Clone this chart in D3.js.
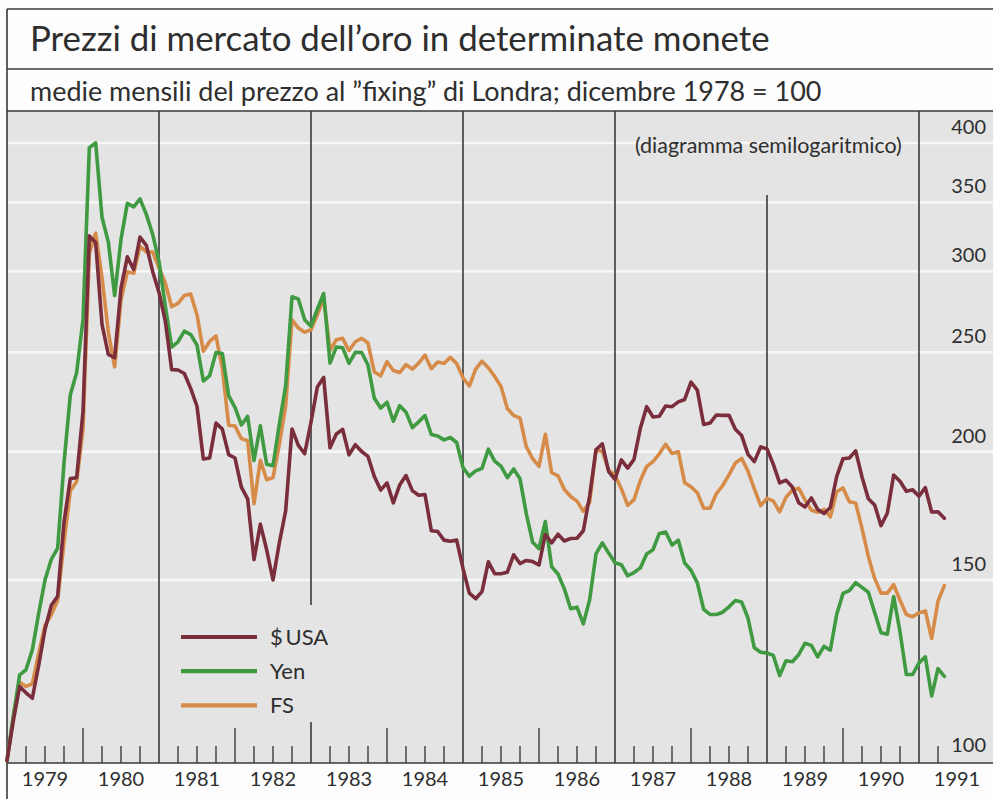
<!DOCTYPE html>
<html><head><meta charset="utf-8">
<script src="https://cdn.jsdelivr.net/npm/d3@7"></script>
<style>
body{margin:0;background:#fff}
text{font-family:Lato,'Open Sans','Noto Sans',sans-serif;fill:#2e2e2e}
</style>
</head><body>
<svg id="chart" width="993" height="799"></svg>
<script>
// Monthly averages, index Dec 1978 = 100; first value is Dec 1978, last is Apr 1991
const firstMonth = {year: 1978, month: 12};
const usd = [
100,
109.3,118.1,116.4,115.0,123.8,134.2,141.7,144.6,170.7,188.3,188.7,218.8,
324.7,319.9,266.2,248.8,247.0,288.8,309.8,301.2,323.8,317.9,299.8,286.0,
268.0,240.5,240.3,238.4,230.6,221.5,196.8,197.2,213.3,210.4,198.7,197.2,
184.7,179.9,157.0,170.0,160.5,150.0,163.0,175.1,210.5,202.9,199.1,213.7,
231.3,236.3,201.8,208.1,210.3,198.6,203.2,200.1,197.9,189.2,183.5,186.5,
178.3,185.6,189.6,183.3,181.4,181.7,167.5,167.2,164.0,163.6,164.0,153.9,
145.6,143.8,146.1,156.2,152.1,152.1,152.6,158.7,155.6,156.7,156.3,155.1,
166.1,163.0,166.2,163.7,164.6,164.7,167.5,181.2,200.9,203.6,191.3,188.0,
196.4,192.8,196.6,210.8,221.3,216.2,216.6,221.6,221.3,223.7,224.9,233.8,
229.7,212.6,213.3,217.2,217.0,217.1,210.4,207.4,198.8,195.6,202.2,201.3,
194.4,186.5,187.6,184.8,178.4,176.7,180.3,175.7,174.1,176.5,189.1,196.9,
197.2,200.4,189.0,180.0,177.5,169.4,174.3,189.8,187.2,183.0,183.6,181.0,
184.5,174.7,174.8,172.3
];
const yen = [
100,
110.5,121.2,122.6,128.2,139.1,150.0,157.1,161.1,194.9,227.3,238.9,269.2,
395.8,400.1,338.6,320.2,284.0,322.2,349.3,346.6,352.8,340.8,325.9,306.5,
277.2,253.0,256.0,262.2,260.2,254.1,234.4,237.3,249.9,249.3,226.9,220.9,
212.4,216.5,196.1,212.0,194.5,193.8,212.7,232.0,283.2,281.8,269.0,265.1,
275.4,285.3,244.0,253.0,252.6,243.9,250.0,249.9,243.0,225.5,220.6,223.5,
214.2,221.8,218.6,211.1,213.9,216.9,207.9,207.2,205.4,206.5,204.2,193.0,
189.3,191.6,192.7,201.2,195.8,193.6,188.7,192.4,188.2,174.0,163.2,160.9,
171.0,154.5,152.0,147.0,140.6,141.1,135.9,143.5,159.0,163.0,159.3,155.9,
155.2,151.4,152.5,154.1,159.0,160.5,166.5,167.0,162.2,164.0,155.8,153.3,
149.0,140.4,138.8,138.8,139.5,141.2,143.2,142.7,137.7,128.8,127.5,127.3,
126.6,121.0,125.1,124.8,126.8,130.1,129.5,126.2,129.2,128.1,138.8,145.5,
146.4,149.1,147.5,145.9,139.4,133.2,132.8,144.5,133.5,121.3,121.3,124.5,
126.2,115.6,122.9,120.8
];
const fs = [
100,
110.3,119.2,118.1,118.8,127.2,135.4,138.7,143.3,163.1,183.2,187.1,210.3,
312.1,326.6,295.7,261.5,242.0,281.1,299.6,298.5,317.1,313.2,313.2,302.3,
292.0,277.0,279.0,284.0,285.0,272.0,250.6,256.2,259.4,241.2,212.3,211.9,
206.0,205.0,178.0,196.2,187.8,188.7,203.4,221.7,269.0,264.0,261.6,263.0,
272.0,282.2,251.0,257.2,258.0,251.0,256.0,258.0,255.3,239.2,237.2,244.8,
240.0,238.9,243.2,240.8,244.0,248.4,241.0,244.6,243.8,247.2,243.8,236.1,
231.8,240.8,245.1,241.5,236.9,231.5,220.4,217.0,215.7,202.2,196.9,193.5,
208.0,190.8,189.5,183.8,180.9,179.0,175.0,178.5,200.9,200.1,191.9,189.7,
184.1,177.3,179.6,187.5,193.5,195.6,199.1,203.4,199.2,200.0,186.6,184.9,
182.4,176.2,176.2,182.0,185.4,189.9,195.0,197.0,191.5,184.0,177.2,180.1,
179.0,174.8,180.6,183.5,184.3,179.5,175.5,174.6,175.7,172.8,182.8,184.4,
178.8,178.3,168.4,158.1,150.5,145.6,145.6,148.4,143.3,138.8,138.1,139.3,
139.9,131.5,143.0,148.1
];
const seriesNames = ["$\u2009USA", "Yen", "FS"];
const seriesColors = ["#7a2d3b", "#3f9a42", "#d68c48"];
const yearLabels = ["1979","1980","1981","1982","1983","1984","1985","1986","1987","1988","1989","1990","1991"];
const yTickValues = [100, 150, 200, 250, 300, 350, 400];

const svg = d3.select("#chart");
const W = 993, H = 799;
const plotLeft = 7, plotTop = 111, axisY = 763;

const x = d3.scaleLinear().domain([1979, 1991]).range([7, 919]);
const y = d3.scaleLog().domain([100, 400]).range([760.5, 143]);
const tOf = i => firstMonth.year + (firstMonth.month + i) / 12; // Dec 1978 -> 1979.0

svg.append("rect").attr("width", W).attr("height", H).attr("fill", "#fdfdfd");
svg.append("rect").attr("x", plotLeft).attr("y", plotTop).attr("width", W - plotLeft).attr("height", axisY - plotTop).attr("fill", "#e4e4e4");

// white horizontal grid lines
svg.append("g").selectAll("line").data(yTickValues.filter(v => v > 100)).join("line")
  .attr("x1", plotLeft).attr("x2", W).attr("y1", d => y(d)).attr("y2", d => y(d))
  .attr("stroke", "#f7f7f7").attr("stroke-width", 2.5);

// right-hand labels
svg.append("g").selectAll("text").data(yTickValues).join("text")
  .attr("x", 986).attr("y", d => y(d) - 9).attr("text-anchor", "end")
  .attr("font-size", 20).text(d => d);

// vertical year separators (odd years), with gaps for legend and note
const sepYears = [1981, 1983, 1985, 1987, 1989, 1991];
const gaps = {1983: [[plotTop, 605], [722, axisY]], 1989: [[195, axisY]]};
const dark = "#2f2f2f";
sepYears.forEach(yr => {
  const segs = gaps[yr] || [[plotTop, axisY]];
  segs.forEach(s => svg.append("line").attr("x1", x(yr)).attr("x2", x(yr)).attr("y1", s[0]).attr("y2", s[1])
    .attr("stroke", dark).attr("stroke-width", 1.5));
});
// medium ticks at even years
const midYears = [1980, 1982, 1984, 1986, 1988, 1990];
svg.append("g").selectAll("line").data(midYears).join("line")
  .attr("x1", d => x(d)).attr("x2", d => x(d)).attr("y1", axisY - 35).attr("y2", axisY)
  .attr("stroke", dark).attr("stroke-width", 1.3);
// small quarterly ticks
const quarters = [];
for (let yr = 1979; yr <= 1991; yr++) [0.25, 0.5, 0.75].forEach(q => { if (yr + q <= 1991.3) quarters.push(yr + q); });
svg.append("g").selectAll("line").data(quarters).join("line")
  .attr("x1", d => x(d)).attr("x2", d => x(d)).attr("y1", axisY - 17).attr("y2", axisY)
  .attr("stroke", dark).attr("stroke-width", 1.3);

// frame lines
const frame = svg.append("g").attr("stroke", "#383838").attr("stroke-width", 1.6);
frame.append("line").attr("x1", plotLeft).attr("x2", W).attr("y1", 9).attr("y2", 9);
frame.append("line").attr("x1", plotLeft).attr("x2", W).attr("y1", 69).attr("y2", 69);
frame.append("line").attr("x1", plotLeft).attr("x2", W).attr("y1", plotTop).attr("y2", plotTop);
frame.append("line").attr("x1", plotLeft).attr("x2", W).attr("y1", axisY).attr("y2", axisY);
frame.append("line").attr("x1", plotLeft).attr("x2", plotLeft).attr("y1", 9).attr("y2", H);

// year labels
svg.append("g").selectAll("text").data(yearLabels).join("text")
  .attr("x", (d, i) => x(1979 + i + 0.5)).attr("y", 786).attr("text-anchor", "middle")
  .attr("font-size", 20).text(d => d);

function fitText(sel, target) {
  const w = sel.node().getComputedTextLength();
  const fsz = +sel.attr("font-size");
  sel.attr("font-size", fsz * target / w);
}
const title = svg.append("text").attr("x", 30).attr("y", 51).attr("font-size", 32)
  .text("Prezzi di mercato dell\u2019oro in determinate monete");
fitText(title, 740);
const sub = svg.append("text").attr("x", 30).attr("y", 101).attr("font-size", 22)
  .text("medie mensili del prezzo al \u201Dfixing\u201D di Londra; dicembre 1978 = 100");
fitText(sub, 792);
const note = svg.append("text").attr("x", 635).attr("y", 153).attr("font-size", 18)
  .text("(diagramma semilogaritmico)");
fitText(note, 267);

// data lines
const line = d3.line().x((d, i) => x(tOf(i))).y(d => y(d));
const allSeries = [fs, yen, usd];
const order = [2, 1, 0];
allSeries.forEach((s, k) => {
  svg.append("path").datum(s).attr("d", line).attr("fill", "none")
    .attr("stroke", seriesColors[order[k]]).attr("stroke-width", 3.6)
    .attr("stroke-linejoin", "round").attr("stroke-linecap", "round");
});

// legend
const lg = svg.append("g");
seriesNames.forEach((n, i) => {
  const ly = 637 + i * 34.2;
  lg.append("line").attr("x1", 181).attr("x2", 257).attr("y1", ly).attr("y2", ly)
    .attr("stroke", seriesColors[i]).attr("stroke-width", 4.2);
  lg.append("text").attr("x", 270).attr("y", ly + 8).attr("font-size", 22).text(n);
});
</script>
</body></html>
